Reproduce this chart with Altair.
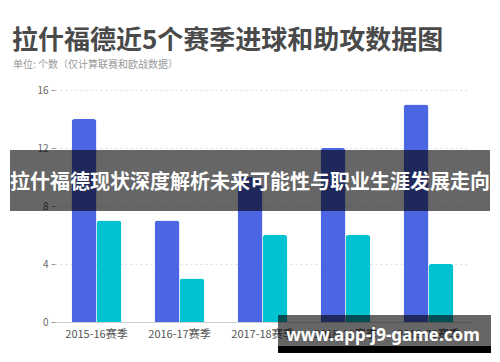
import altair as alt
import pandas as pd

seasons = ["2015-16赛季", "2016-17赛季", "2017-18赛季", "2018-19赛季", "2019-20赛季"]
goals = [14, 7, 10, 12, 15]
assists = [7, 3, 6, 6, 4]
series_names = ["进球", "助攻"]
y_ticks = [0, 4, 8, 12, 16]

title_text = "拉什福德近5个赛季进球和助攻数据图"
subtitle_text = "单位: 个数（仅计算联赛和欧战数据）"
banner_text = "拉什福德现状深度解析未来可能性与职业生涯发展走向"
watermark_text = "www.app-j9-game.com"

rows = []
for s, g, a in zip(seasons, goals, assists):
    rows.append({"season": s, "series": series_names[0], "value": g})
    rows.append({"season": s, "series": series_names[1], "value": a})
df = pd.DataFrame(rows)

FONT = "Noto Sans CJK SC"
W, H = 415, 232

bars = alt.Chart(df).mark_bar(cornerRadiusTopLeft=3, cornerRadiusTopRight=3).encode(
    x=alt.X("season:N", sort=seasons, title=None,
            scale=alt.Scale(paddingInner=0.4, paddingOuter=0.2),
            axis=alt.Axis(labelAngle=0, ticks=False, labelPadding=6, labelFontSize=11,
                          labelColor="#555555", domainColor="#d0d0d0", labelFont=FONT)),
    xOffset=alt.XOffset("series:N", sort=series_names),
    y=alt.Y("value:Q", title=None,
            scale=alt.Scale(domain=[0, 16], nice=False),
            axis=alt.Axis(values=y_ticks, domain=False, tickSize=4, tickColor="#999999",
                          labelColor="#666666", labelFontSize=10, labelPadding=3,
                          gridDash=[2, 3], gridColor="#dddddd", labelFont=FONT)),
    color=alt.Color("series:N", sort=series_names, legend=None,
                    scale=alt.Scale(domain=series_names, range=["#4c65e3", "#00c2d0"])),
)

one = pd.DataFrame({"t": [title_text], "s": [subtitle_text], "b": [banner_text], "w": [watermark_text]})
base = alt.Chart(one)

title = base.mark_text(align="left", baseline="alphabetic", fontSize=26, fontWeight="bold",
                       color="#4a4a4a", font=FONT).encode(
    x=alt.value(-43), y=alt.value(-41), text="t:N")
subtitle = base.mark_text(align="left", baseline="middle", fontSize=10, color="#999999",
                          font=FONT).encode(
    x=alt.value(-42), y=alt.value(-25), text="s:N")

banner_rect = base.mark_rect(color="#000000", opacity=0.6).encode(
    x=alt.value(-45), x2=alt.value(435), y=alt.value(60), y2=alt.value(121))
banner_txt = base.mark_text(align="center", baseline="middle", fontSize=20, fontWeight="bold",
                            color="#ffffff", font=FONT).encode(
    x=alt.value(195), y=alt.value(93), text="b:N")

wm_rect = base.mark_rect(color="#000000", opacity=0.6).encode(
    x=alt.value(223), x2=alt.value(436), y=alt.value(225), y2=alt.value(256))
wm_bar = base.mark_rect(color="#000000", opacity=1).encode(
    x=alt.value(223), x2=alt.value(436), y=alt.value(256), y2=alt.value(263))
wm_txt = base.mark_text(align="center", baseline="middle", fontSize=17, fontWeight="bold",
                        color="#ffffff", font="Noto Sans").encode(
    x=alt.value(328), y=alt.value(246), text="w:N")

chart = alt.layer(bars, title, subtitle, banner_rect, banner_txt, wm_rect, wm_bar, wm_txt).properties(
    width=W, height=H,
    autosize=alt.AutoSizeParams(type="none"),
    padding={"left": 55, "top": 90, "right": 30, "bottom": 40},
    background="#ffffff",
).configure_view(stroke=None)

chart.save("out.html", embed_options={"renderer": "svg", "actions": False})
